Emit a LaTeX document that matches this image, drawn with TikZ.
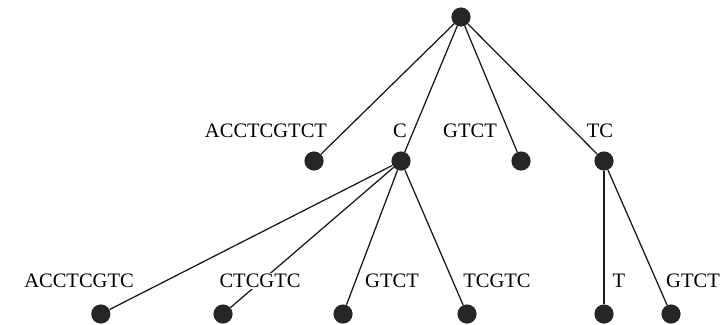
\documentclass[tikz,border=0pt]{standalone}
\usepackage{fontspec}
\setmainfont{Liberation Serif}
\tikzset{
  leaf/.style={circle,fill=black!85,draw=none,minimum size=0.48cm,inner sep=0pt},
  branch/.style={line width=0.9pt,draw=black!90},
  lbl/.style={fill=white,inner sep=1pt,anchor=base,font=\fontsize{14.6}{16}\selectfont}
}

\begin{document}
\begin{tikzpicture}
  \useasboundingbox (0,0) rectangle (18.05,8.1);
  % tree nodes
  \node[leaf] (r) at (11.525,7.675) {};
  \node[leaf] (a1) at (7.85,4.075) {}; \node[leaf] (c) at (10.025,4.075) {};
  \node[leaf] (g1) at (13.025,4.075) {}; \node[leaf] (tc) at (15.1,4.075) {};
  \node[leaf] (a2) at (2.52,0.25) {}; \node[leaf] (ct) at (5.575,0.25) {}; \node[leaf] (g2) at (8.575,0.25) {};
  \node[leaf] (tcg) at (11.675,0.25) {}; \node[leaf] (t) at (15.1,0.25) {}; \node[leaf] (g3) at (16.775,0.25) {};
  % edges
  \foreach \x in {a1,c,g1,tc} \draw[branch] (r)--(\x);
  \foreach \x in {a2,ct,g2,tcg} \draw[branch] (c)--(\x);
  \foreach \x in {t,g3} \draw[branch] (tc)--(\x);
  % edge labels
  \node[lbl] (la1) at (6.65,4.67) {ACCTCGTCT}; \node[lbl] (lc) at (10.0,4.67) {C};
  \node[lbl] (lg1) at (11.75,4.67) {GTCT}; \node[lbl] (ltc) at (15.0,4.67) {TC};
  \node[lbl] (la2) at (1.975,0.91) {ACCTCGTC}; \node[lbl] (lct) at (6.5,0.91) {CTCGTC};
  \node[lbl] (lg2) at (9.8,0.91) {GTCT}; \node[lbl] (ltcg) at (12.425,0.91) {TCGTC};
  \node[lbl] (lt) at (15.475,0.91) {T}; \node[lbl] (lg3) at (17.325,0.91) {GTCT};
\end{tikzpicture}
\end{document}
